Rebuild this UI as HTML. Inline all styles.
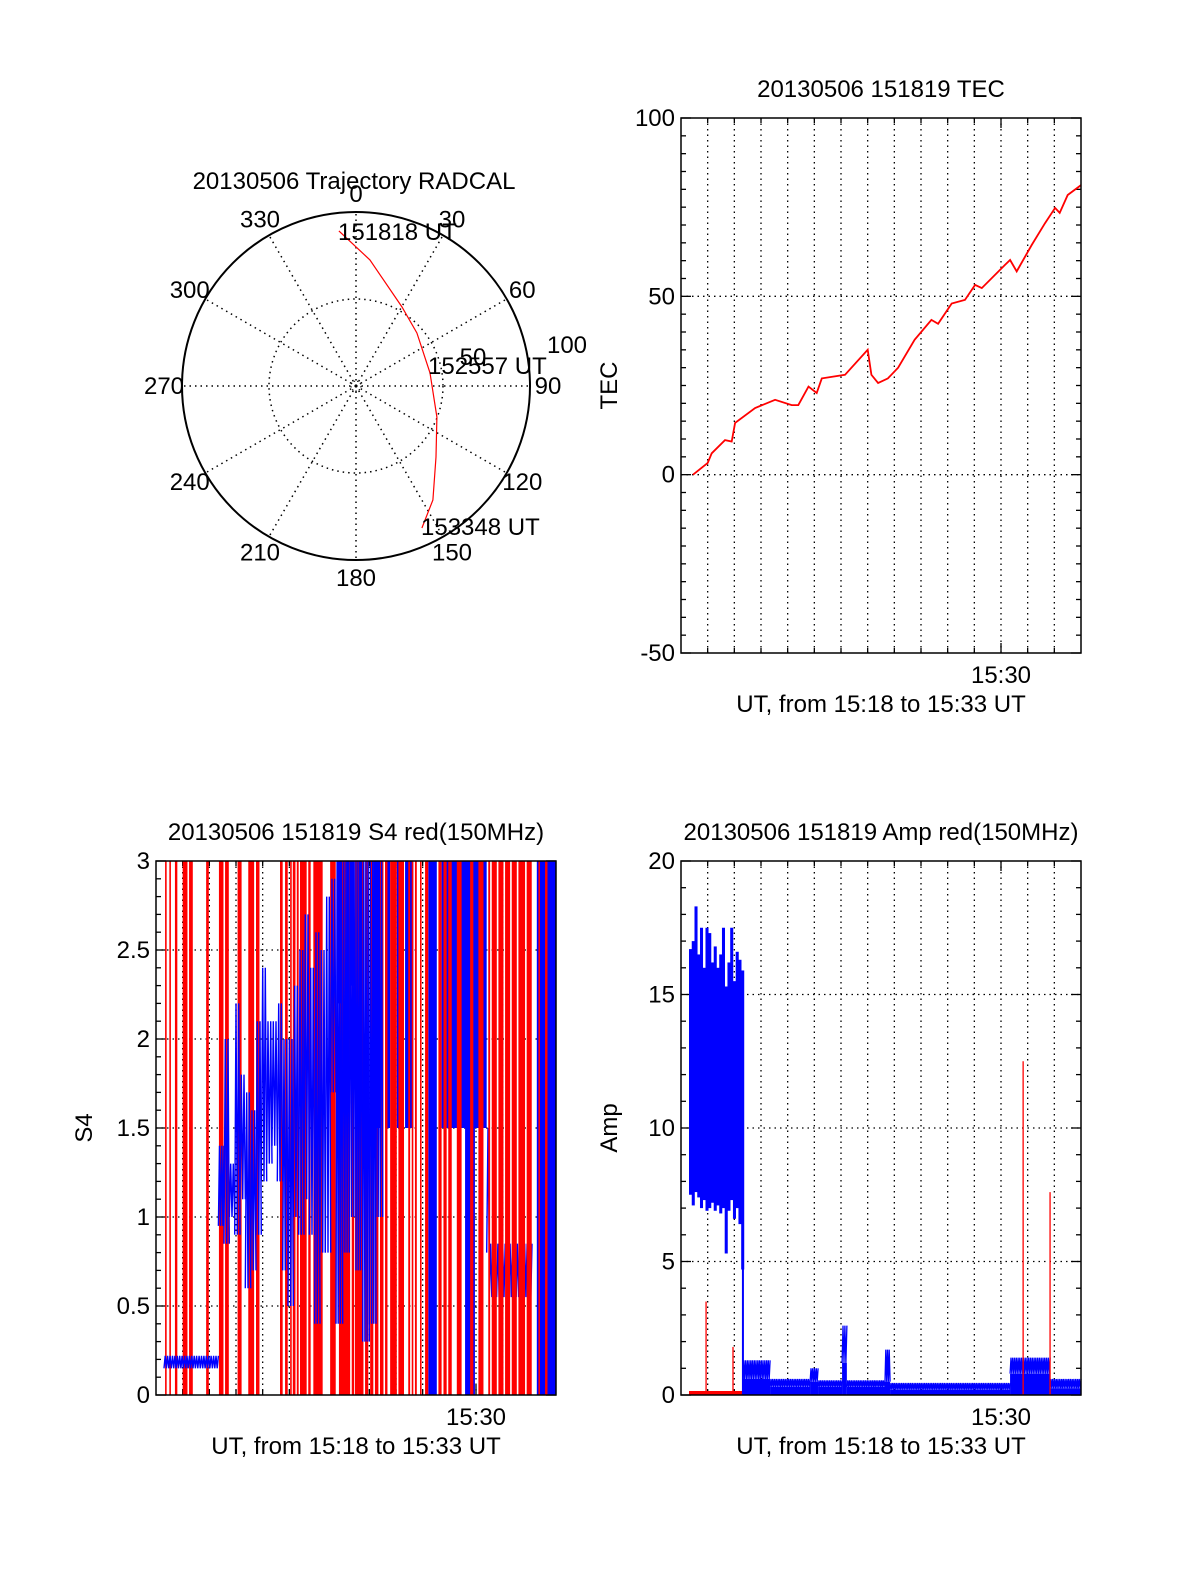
<!DOCTYPE html>
<html><head><meta charset="utf-8"><style>
body{margin:0;background:#fff}
svg{display:block;font-family:"Liberation Sans",Arial,sans-serif}
text{font-size:24px;fill:#000}
</style></head><body>
<svg id="fig" width="1200" height="1575" viewBox="0 0 1200 1575" xmlns="http://www.w3.org/2000/svg">
<rect width="1200" height="1575" fill="#fff"/>
<g id="polar"></g>
<g id="tec"></g>
<g id="s4"></g>
<g id="amp"></g>
</svg>
<script>
// ---- data ----
const trajAz = [353.7, 6.3, 30.2, 49, 80, 111, 131.6, 146, 155.1];
const trajZen = [89.7, 72.9, 52.5, 46.4, 43.2, 49.8, 61.5, 79, 90];
const tecMin = [0.45,1.0,1.15,1.65,1.9,2.03,2.78,3.53,4.15,4.4,4.78,5.09,5.28,6.15,7.0,7.14,7.39,7.76,8.14,8.76,9.39,9.64,10.15,10.65,11.03,11.28,12.15,12.34,12.59,13.15,13.65,14.03,14.2,14.5,15];
const tecVal = [0,3.3,6,9.7,9.3,14.5,18.7,21,19.5,19.5,24.7,22.9,27,28,35,28,25.7,27,30,37.8,43.4,42.3,48,49,53.2,52.3,58.8,60.2,57,64.4,70.5,74.8,73.4,78.4,81.2];
const tecTicks = [-50,0,50,100];
const s4Ticks = [0,0.5,1,1.5,2,2.5,3];
const ampTicks = [0,5,10,15,20];
const s4RedStart = [0.34,0.50,0.71,1.00,1.24,1.88,2.36,2.59,3.06,3.46,3.75,4.65,4.84,5.03,5.13,5.28,5.40,5.71,5.90,6.53,6.86,7.34,7.46,7.84,8.03,8.21,8.40,8.59,8.78,9.09,9.46,9.59,9.71,9.90,10.09,10.59,10.78,10.96,11.28,11.78,12.09,12.46,12.59,12.84,13.09,13.34,13.59,13.90,14.34,14.59];
const s4RedEnd   = [0.40,0.56,0.80,1.18,1.38,1.98,2.53,2.73,3.21,3.68,3.88,4.75,4.94,5.09,5.23,5.35,5.65,5.80,6.25,6.74,7.28,7.43,7.78,7.96,8.15,8.34,8.53,8.68,9.03,9.30,9.53,9.65,9.78,9.96,10.21,10.71,10.90,11.09,11.46,11.90,12.28,12.53,12.78,13.03,13.28,13.53,13.84,14.09,14.40,14.68];
const s4BlueStart = [6.78,7.15,7.28,7.59,8.15,8.59,9.03,9.34,10.21,10.71,11.59,14.28];
const s4BlueEnd   = [6.96,7.25,7.43,7.71,8.40,8.78,9.13,9.65,10.53,12.40,11.96,15.0];
const s4BlueLo    = [2.2,2.0,2.3,2.0,1.5,1.5,1.5,1.5,0,1.5,0,0];
const s4BlueHi    = [3,3,3,3,3,3,3,3,3,3,3,3];
const s4NoiseStart = [0.3,2.34,2.55,2.75,2.95,3.15,3.35,3.55,3.75,3.95,4.15,4.35,4.55,4.75,4.95,5.15,5.35,5.55,5.75,5.95,6.15,6.35,6.55,6.75,7.0,7.25,7.5,7.75,8.0,8.25,12.4,12.5];
const s4NoiseEnd   = [2.34,2.55,2.75,2.95,3.15,3.35,3.55,3.75,3.95,4.15,4.35,4.55,4.75,4.95,5.15,5.35,5.55,5.75,5.95,6.15,6.35,6.55,6.75,7.0,7.25,7.5,7.75,8.0,8.25,8.5,12.5,14.1];
const s4NoiseLo    = [0.15,0.95,0.85,1.0,0.9,1.1,0.6,0.7,0.9,1.2,1.3,1.4,1.2,0.7,0.5,1.0,0.9,1.1,0.9,0.4,0.8,0.8,1.7,0.4,0.8,1.0,0.7,0.3,0.4,1.0,0.8,0.55];
const s4NoiseHi    = [0.22,1.4,2.0,1.3,2.2,1.8,1.7,1.6,2.1,2.4,2.1,2.1,2.2,2.0,2.0,2.3,2.5,2.7,2.4,2.6,2.5,2.8,2.9,3.0,3.0,3.0,3.0,3.0,3.0,3.0,1.5,0.85];
const ampBlockHi = [16.7,17.0,18.3,16.5,17.5,16.0,17.5,17.3,16.2,16.8,16.0,16.5,17.5,15.3,16.2,17.5,15.5,16.6,16.3,15.9];
const ampBlockLo = [7.5,7.1,7.6,7.4,7.0,7.3,6.9,7.0,7.2,6.9,7.1,6.8,7.0,5.3,6.9,7.3,6.6,7.0,6.4,4.7];
const ampBlockStart = 0.3, ampBlockEnd = 2.36;
const ampLowStart = [2.32,3.34,4.84,5.14,6.04,6.22,7.65,7.84,12.34,13.84];
const ampLowEnd   = [3.34,4.84,5.14,6.04,6.22,7.65,7.84,12.34,13.84,15.0];
const ampLowHi    = [1.3,0.6,1.0,0.55,2.6,0.55,1.7,0.45,1.4,0.6];
const ampLowBase  = [0.6,0.3,0.5,0.3,1.2,0.3,0.5,0.2,0.8,0.25];
const ampRedMin = [0.94,1.95,12.83,13.84];
const ampRedVal = [3.5,1.8,12.5,7.6];

// ---- helpers ----
const NS='http://www.w3.org/2000/svg';
function mk(parent, tag, attrs, txt){
  const e=document.createElementNS(NS,tag);
  for(const k in attrs) e.setAttribute(k,attrs[k]);
  if(txt!==undefined) e.textContent=txt;
  parent.appendChild(e); return e;
}
const DOT='1.5,4';

// ---- polar ----
(function(){
  const g=document.getElementById('polar');
  const cx=356, cy=386, R=174;
  const rr=z=>z/100*R;
  const t=mk(g,'text',{x:354,y:189,'text-anchor':'middle'},'20130506 Trajectory RADCAL');
  
  
  for(let a=0;a<360;a+=30){
    const rad=a*Math.PI/180;
    const l=mk(g,'line',{x1:cx,y1:cy,x2:cx+R*Math.sin(rad),y2:cy-R*Math.cos(rad),stroke:'#000','stroke-width':1.5,'stroke-dasharray':DOT});
    
    
    const lx=cx+(R+18)*Math.sin(rad), ly=cy-(R+18)*Math.cos(rad)+8;
    const tl=mk(g,'text',{x:lx,y:ly,'text-anchor':'middle'},String(a));
    
    
  }
  const c1=mk(g,'circle',{cx:cx,cy:cy,r:rr(50),fill:'none',stroke:'#000','stroke-width':1.5,'stroke-dasharray':DOT});
  
  
  const c0=mk(g,'circle',{cx:cx,cy:cy,r:5,fill:'none',stroke:'#000','stroke-width':1,'stroke-dasharray':'1.5,2'});
  
  
  const c2=mk(g,'circle',{cx:cx,cy:cy,r:R,fill:'none',stroke:'#000','stroke-width':2});
  
  
  const r100=mk(g,'text',{x:567,y:353,'text-anchor':'middle'},'100');
  
  
  const r50=mk(g,'text',{x:473,y:365,'text-anchor':'middle'},'50');
  
  
  const pts=trajAz.map((a,i)=>{const rad=a*Math.PI/180;return (cx+rr(trajZen[i])*Math.sin(rad)).toFixed(1)+','+(cy-rr(trajZen[i])*Math.cos(rad)).toFixed(1);});
  const p=mk(g,'polyline',{points:pts.join(' '),fill:'none',stroke:'#f00','stroke-width':1.2});
  
  
  const l1=mk(g,'text',{x:338,y:240},'151818 UT');
  
  
  const l2=mk(g,'text',{x:428,y:374},'152557 UT');
  
  
  const l3=mk(g,'text',{x:421,y:535},'153348 UT');
  
  
})();

// ---- generic frame ----
function frame(g, L, T, W, H, ticks, yFn, title, ylab, yTickFmt, minorStep, yMin, yMax){
  const xm=m=>L+m*W/15;
  for(let m=1;m<15;m++){
    const l=mk(g,'line',{x1:xm(m),y1:T,x2:xm(m),y2:T+H,stroke:'#000','stroke-width':1.3,'stroke-dasharray':DOT});
    
    
    mk(g,'line',{x1:xm(m),y1:T+H,x2:xm(m),y2:T+H-(m===12?10:5),stroke:'#000','stroke-width':1.3});
    mk(g,'line',{x1:xm(m),y1:T,x2:xm(m),y2:T+(m===12?10:5),stroke:'#000','stroke-width':1.3});
  }
  ticks.forEach(v=>{
    const y=yFn(v);
    if(v>yMin&&v<yMax){
      const l=mk(g,'line',{x1:L,y1:y,x2:L+W,y2:y,stroke:'#000','stroke-width':1.3,'stroke-dasharray':DOT});
      
      
    }
    const t=mk(g,'text',{x:L-6,y:y+8,'text-anchor':'end'},yTickFmt(v));
    
    
  });
  for(let v=yMin;v<=yMax+1e-9;v+=minorStep){
    const y=yFn(v);
    const big=ticks.some(t=>Math.abs(t-v)<1e-6);
    mk(g,'line',{x1:L,y1:y,x2:L+(big?10:5),y2:y,stroke:'#000','stroke-width':1.3});
    mk(g,'line',{x1:L+W,y1:y,x2:L+W-(big?10:5),y2:y,stroke:'#000','stroke-width':1.3});
  }
  const tt=mk(g,'text',{x:L+W/2,y:T-21,'text-anchor':'middle'},title);
  
  
  const xl=mk(g,'text',{x:xm(12),y:T+H+30,'text-anchor':'middle'},'15:30');
  
  
  const xt=mk(g,'text',{x:L+W/2,y:T+H+59,'text-anchor':'middle'},'UT, from 15:18 to 15:33 UT');
  
  
  const yl=mk(g,'text',{x:0,y:0,'text-anchor':'middle',transform:`translate(${L-64},${T+H/2}) rotate(-90)`},ylab);
  
  
}
function border(g,L,T,W,H){
  const b=mk(g,'rect',{x:L,y:T,width:W,height:H,fill:'none',stroke:'#000','stroke-width':1.5});
  
  
}

// ---- TEC ----
(function(){
  const g=document.getElementById('tec');
  const L=681,T=118,W=400,H=535;
  const x=m=>L+m*W/15, y=v=>T+H-(v+50)*H/150;
  frame(g,L,T,W,H,tecTicks,y,'20130506 151819 TEC','TEC',v=>String(v),5,-50,100);
  const pts=tecMin.map((m,i)=>x(m).toFixed(1)+','+y(tecVal[i]).toFixed(1));
  const p=mk(g,'polyline',{points:pts.join(' '),fill:'none',stroke:'#f00','stroke-width':1.8});
  
  
  border(g,L,T,W,H);
})();

// ---- S4 ----
(function(){
  const g=document.getElementById('s4');
  const L=156,T=861,W=400,H=534;
  const x=m=>L+m*W/15, y=v=>T+H-v*H/3;
  frame(g,L,T,W,H,s4Ticks,y,'20130506 151819 S4 red(150MHz)','S4',v=>String(v),0.1,0,3);
  function redBar(i){
    const r=mk(g,'rect',{x:x(s4RedStart[i]),y:y(3),width:Math.max(1,x(s4RedEnd[i])-x(s4RedStart[i])),height:y(0)-y(3),fill:'#f00'});
    
    
  }
  s4RedStart.forEach((m,i)=>{ if(m<8.5) redBar(i); });
  s4NoiseStart.forEach((m,i)=>{
    const m1=s4NoiseEnd[i], lo=s4NoiseLo[i], hi=s4NoiseHi[i];
    const n=Math.max(2,Math.round((m1-m)*22));
    const pts=[];
    for(let k=0;k<=n;k++){ const mm=m+(m1-m)*k/n; pts.push(x(mm).toFixed(1)+','+y(k%2?hi:lo).toFixed(1)); }
    const p=mk(g,'polyline',{points:pts.join(' '),fill:'none',stroke:'#00f','stroke-width':1.4});
    
    
  });
  s4BlueStart.forEach((m,i)=>{
    const r=mk(g,'rect',{x:x(m),y:y(s4BlueHi[i]),width:x(s4BlueEnd[i])-x(m),height:y(s4BlueLo[i])-y(s4BlueHi[i]),fill:'#00f'});
    
    
  });
  s4RedStart.forEach((m,i)=>{ if(m>=8.5) redBar(i); });
  border(g,L,T,W,H);
})();

// ---- Amp ----
(function(){
  const g=document.getElementById('amp');
  const L=681,T=861,W=400,H=534;
  const x=m=>L+m*W/15, y=v=>T+H-v*H/20;
  frame(g,L,T,W,H,ampTicks,y,'20130506 151819 Amp red(150MHz)','Amp',v=>String(v),1,0,20);
  const bw=(ampBlockEnd-ampBlockStart)/ampBlockHi.length;
  ampBlockHi.forEach((h,i)=>{
    const m=ampBlockStart+i*bw;
    const r=mk(g,'rect',{x:x(m),y:y(h),width:x(m+bw)-x(m)+0.3,height:y(ampBlockLo[i])-y(h),fill:'#00f'});
    
    
  });
  const base=mk(g,'rect',{x:x(ampBlockStart),y:y(0.15),width:x(ampBlockEnd)-x(ampBlockStart),height:y(0)-y(0.15),fill:'#f00'});
  
  
  ampLowStart.forEach((m,i)=>{
    const r=mk(g,'rect',{x:x(m),y:y(ampLowBase[i]),width:x(ampLowEnd[i])-x(m),height:y(0)-y(ampLowBase[i]),fill:'#00f'});
    
    
    const m1=ampLowEnd[i], n=Math.max(2,Math.round((m1-m)*30));
    const pts=[];
    for(let k=0;k<=n;k++){ const mm=m+(m1-m)*k/n; pts.push(x(mm).toFixed(1)+','+y(k%2?ampLowHi[i]:ampLowBase[i]).toFixed(1)); }
    const p=mk(g,'polyline',{points:pts.join(' '),fill:'none',stroke:'#00f','stroke-width':1.3});
    
    
  });
  const dr=mk(g,'line',{x1:x(ampBlockEnd)-1,y1:y(4.7),x2:x(ampBlockEnd)-1,y2:y(0),stroke:'#00f','stroke-width':2});
  
  
  ampRedMin.forEach((m,i)=>{
    const l=mk(g,'line',{x1:x(m),y1:y(ampRedVal[i]),x2:x(m),y2:y(0),stroke:'#f00','stroke-width':1.3});
    
    
  });
  border(g,L,T,W,H);
})();
</script>
</body></html>
